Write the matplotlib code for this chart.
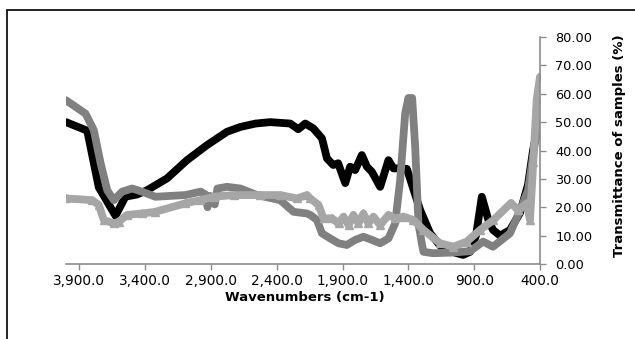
import matplotlib
matplotlib.use('Agg')
import matplotlib.pyplot as plt
from matplotlib.patches import Rectangle
from matplotlib.ticker import FuncFormatter, MultipleLocator


# sample 1 (black)
wn_black = [4000, 3839, 3751, 3624, 3549, 3460, 3384, 3232, 3081, 2929,
            2777, 2676, 2560, 2449, 2297, 2236, 2183, 2122, 2056, 2018,
            1970, 1933, 1879, 1842, 1804, 1753, 1715, 1677, 1614, 1551,
            1513, 1462, 1411, 1310, 1235, 1159, 1083, 984, 931, 886, 842,
            792, 757, 703, 628, 552, 491, 453, 400]
t_black = [50.0, 47.0, 27.0, 17.0, 23.7, 24.5, 26.0, 30.2, 36.6, 41.9,
           46.6, 48.3, 49.5, 50.0, 49.5, 47.5, 49.5, 47.8, 44.3, 37.2,
           34.9, 35.5, 28.5, 34.3, 33.1, 38.4, 34.3, 32.5, 27.2, 36.6,
           33.7, 33.7, 33.5, 19.0, 10.9, 6.5, 4.5, 3.2, 4.3, 10.0, 23.7,
           15.5, 12.0, 10.0, 12.0, 18.0, 28.0, 40.0, 52.0]

# sample 2 (dark gray)
wn_dark = [4000, 3852, 3789, 3737, 3687, 3637, 3574, 3498, 3422, 3321,
           3093, 2977, 2940, 2925, 2905, 2870, 2850, 2777, 2676, 2549,
           2373, 2272, 2170, 2145, 2094, 2056, 1993, 1930, 1867, 1804,
           1741, 1677, 1614, 1551, 1500, 1462, 1424, 1400, 1371, 1348,
           1323, 1298, 1285, 1212, 1083, 931, 832, 757, 628, 529, 491,
           446, 400]
t_dark = [57.7, 53.0, 47.2, 35.5, 26.0, 22.5, 25.5, 26.6, 25.5, 23.7,
          24.3, 25.5, 24.5, 20.0, 24.0, 21.0, 26.6, 27.2, 26.6, 24.3,
          22.5, 18.4, 17.8, 17.3, 15.5, 10.8, 9.0, 7.3, 6.7, 8.5,
          9.6, 8.5, 7.3, 9.0, 14.3, 29.6, 53.0, 58.5, 58.5, 41.3,
          14.3, 7.3, 4.3, 3.8, 4.0, 4.5, 7.9, 6.1, 10.8, 21.4, 26.0,
          40.0, 58.0]

# sample 3 (light gray, triangles)
wn_light = [4000, 3801, 3751, 3713, 3637, 3599, 3536, 3422, 3321, 3093,
            2980, 2879, 2727, 2524, 2373, 2246, 2170, 2145, 2082, 2044,
            1980, 1930, 1892, 1854, 1817, 1779, 1741, 1703, 1665, 1614,
            1551, 1500, 1437, 1361, 1285, 1159, 1058, 956, 855, 754, 620,
            567, 501, 476, 451, 425, 400]
t_light = [23.1, 22.5, 20.8, 15.5, 14.3, 14.9, 17.3, 17.8, 18.4, 21.4,
           22.5, 23.7, 24.3, 24.3, 24.3, 23.1, 24.3, 23.1, 20.8, 16.1,
           16.1, 14.3, 16.7, 13.7, 17.3, 14.3, 17.8, 14.3, 16.7, 13.7,
           17.3, 16.1, 16.7, 15.5, 12.0, 7.3, 6.1, 7.9, 12.0, 15.5, 21.5,
           19.0, 21.4, 15.5, 36.0, 58.0, 66.0]

xticks = [3900, 3400, 2900, 2400, 1900, 1400, 900, 400]

plt.rcParams['font.family'] = ['DejaVu Sans']

fig = plt.figure(figsize=(6.35, 3.39), dpi=100)
ax = fig.add_axes([66 / 635, 1 - 264 / 339, (540 - 66) / 635, (264 - 37) / 339])

# outer chart border (cropped on right and bottom)
fig.patches.append(Rectangle((7 / 635, -0.2), 1.2, 1.2 - 10 / 339,
                             transform=fig.transFigure, fill=False,
                             edgecolor='#111111', linewidth=1.3))

lw = 5.6
ax.plot(wn_black, t_black, color='black', lw=lw, solid_joinstyle='round',
        solid_capstyle='round')
ax.plot(wn_dark, t_dark, color='#808080', lw=lw, solid_joinstyle='round',
        solid_capstyle='round')
ax.plot(wn_light, t_light, color='#a6a6a6', lw=lw, marker='^',
        markersize=6, solid_joinstyle='round', solid_capstyle='round')

ax.set_xlim(4000, 400)
ax.set_ylim(0, 80)
ax.set_xticks(xticks)
ax.xaxis.set_major_formatter(FuncFormatter(lambda v, p: '{:,.1f}'.format(v)))
ax.yaxis.set_major_locator(MultipleLocator(10))
ax.yaxis.set_major_formatter(FuncFormatter(lambda v, p: '{:.2f}'.format(v)))
ax.yaxis.tick_right()

for s in ['left', 'top']:
    ax.spines[s].set_visible(False)
for s in ['bottom', 'right']:
    ax.spines[s].set_color('#8c8c8c')
    ax.spines[s].set_linewidth(1.2)

ax.tick_params(axis='x', colors='#8c8c8c', labelcolor='black', length=4,
               width=1, pad=3, labelsize=9.8)
ax.tick_params(axis='y', colors='#8c8c8c', labelcolor='black', length=4,
               width=1, pad=7, labelsize=9.3)

fig.text(0.48, 1 - 297 / 339, 'Wavenumbers (cm-1)', ha='center',
         va='center', fontsize=9.5, fontweight='bold')
fig.text(620 / 635, 1 - 146 / 339, 'Transmittance of samples (%)',
         ha='center', va='center', rotation=90, fontsize=9.5,
         fontweight='bold')

plt.savefig('out.png', dpi=100)
